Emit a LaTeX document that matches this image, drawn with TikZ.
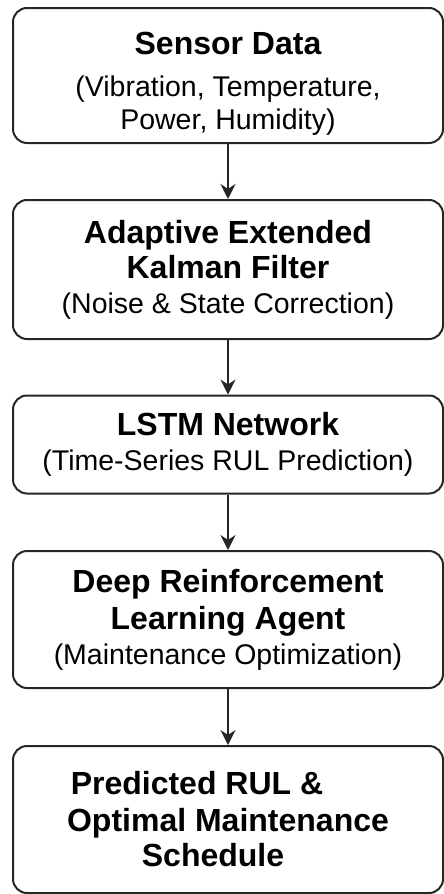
\documentclass[tikz,border=0pt]{standalone}
\usepackage{fontspec}
\setmainfont{Liberation Sans}
\usepackage{tikz}
\usetikzlibrary{arrows.meta}
\tikzstyle{box} = [rectangle, rounded corners=14pt, minimum width=430pt, text centered, align=center, draw=black!85, line width=2pt, font=\fontsize{28.5}{32}\selectfont]
\tikzstyle{arrow} = [line width=2pt, draw=black!85, -{Stealth[length=15pt,width=15pt,inset=5pt]}]
\newcommand{\ttl}[1]{{\fontsize{32}{36}\selectfont\bfseries #1}}

\begin{document}
\begin{tikzpicture}[node distance=175pt]
          \useasboundingbox (0,0) rectangle (444pt,-894pt);
          \node (sensor) [box, minimum height=135pt] at (228pt,-75.5pt) {\rule{0pt}{38pt}\ttl{Sensor Data}\\[10pt] (Vibration, Temperature,\\[1pt] Power, Humidity)};
          \node (aekf) [box, minimum height=139pt, below of=sensor, yshift=-19pt] {\ttl{Adaptive Extended}\\[3pt] \ttl{Kalman Filter}\\[3pt] (Noise \& State Correction)};
          \node (lstm) [box, minimum height=98pt, below of=aekf] {\ttl{LSTM Network}\\[3pt] (Time-Series RUL Prediction)};
          \node (drl) [box, minimum height=137pt, below of=lstm] {\ttl{Deep Reinforcement}\\[5pt] \ttl{Learning Agent}\\[3pt] (Maintenance Optimization)};
          \node (rul) [box, minimum height=147pt, below of=drl, yshift=-25pt] {\ttl{Predicted RUL \&}\hspace*{62pt}\\[5pt] \ttl{Optimal Maintenance}\hspace*{30pt}\\[3pt] \ttl{Schedule}\hspace*{30pt}};
          \draw [arrow] (sensor) -- (aekf);
          \draw [arrow] (aekf) -- (lstm);
          \draw [arrow] (lstm) -- (drl);
          \draw [arrow] (drl) -- (rul);
        \end{tikzpicture}
\end{document}
